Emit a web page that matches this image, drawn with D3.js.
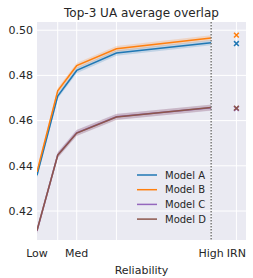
<!DOCTYPE html>
<html><head><meta charset="utf-8">
<script src="https://cdn.jsdelivr.net/npm/d3@7"></script>
<style>body{margin:0;background:#fff}svg{display:block}text{font-family:"DejaVu Sans",sans-serif;fill:#262626}</style>
</head><body><svg id="c" width="253" height="278"></svg>
<script>
const reliability = [0, 0.119, 0.228, 0.456, 1.0];
const irnX = 1.145;
const gridX = [0.119, 0.228, 0.456, 1.0, 1.145];
const xTickVals = [0, 0.228, 1.0, 1.145];
const xTickLabels = ["Low", "Med", "High", "IRN"];
const yTicks = [0.42, 0.44, 0.46, 0.48, 0.50];
const models = ["Model A", "Model B", "Model C", "Model D"];
const colors = ["#1f77b4", "#ff7f0e", "#9467bd", "#8c564b"];
const valsA = [0.4358, 0.4709, 0.4822, 0.4899, 0.4945];
const valsB = [0.4373, 0.4732, 0.4843, 0.4918, 0.4966];
const valsC = [0.4112, 0.4448, 0.4546, 0.4617, 0.4657];
const valsD = [0.4114, 0.4447, 0.4545, 0.4616, 0.4658];
const ciHalf = [0.0012, 0.0012, 0.0013, 0.0013];
const irnVals = [0.4941, 0.4978, 0.4653, 0.4655];
const series = [valsA, valsB, valsC, valsD];

const svg = d3.select("#c");
const L = 37, R = 246, T = 22, B = 240;
const x = d3.scaleLinear().domain([0, 1.2]).range([L, R]);
const y = d3.scaleLinear().domain([0.42, 0.50]).range([211, 30.2]);

svg.append("rect").attr("x", L).attr("y", T).attr("width", R - L).attr("height", B - T).attr("fill", "#eaeaf2");
const g = svg.append("g");
g.selectAll(".gy").data(yTicks).join("line")
  .attr("x1", L).attr("x2", R).attr("y1", d => y(d)).attr("y2", d => y(d))
  .attr("stroke", "#fff").attr("stroke-width", 1);
g.selectAll(".gx").data(gridX).join("line")
  .attr("x1", d => x(d)).attr("x2", d => x(d)).attr("y1", T).attr("y2", B)
  .attr("stroke", "#fff").attr("stroke-width", 1);

svg.append("clipPath").attr("id", "cp").append("rect")
  .attr("x", L).attr("y", T).attr("width", R - L).attr("height", B - T);
const pg = svg.append("g").attr("clip-path", "url(#cp)");

series.forEach((vals, i) => {
  const area = d3.area().x((d, j) => x(reliability[j])).y0(d => y(d - ciHalf[i])).y1(d => y(d + ciHalf[i]));
  pg.append("path").attr("d", area(vals)).attr("fill", colors[i]).attr("fill-opacity", 0.2);
});
series.forEach((vals, i) => {
  const line = d3.line().x((d, j) => x(reliability[j])).y(d => y(d));
  pg.append("path").attr("d", line(vals)).attr("fill", "none").attr("stroke", colors[i]).attr("stroke-width", 1.5);
});

pg.append("line").attr("x1", x(1.0)).attr("x2", x(1.0)).attr("y1", T).attr("y2", B)
  .attr("stroke", "#808080").attr("stroke-width", 1.6).attr("stroke-dasharray", "1.5,1.5");

irnVals.forEach((v, i) => {
  const cx = x(irnX), cy = y(v), s = 2.4;
  pg.append("path").attr("d", `M${cx - s},${cy - s}L${cx + s},${cy + s}M${cx - s},${cy + s}L${cx + s},${cy - s}`)
    .attr("stroke", colors[i]).attr("stroke-width", 1.5).attr("fill", "none");
});

svg.selectAll(".yl").data(yTicks).join("text")
  .attr("x", 33).attr("y", d => y(d)).attr("dy", "0.35em").attr("text-anchor", "end")
  .attr("font-size", 11).text(d => d.toFixed(2));
svg.selectAll(".xl").data(xTickVals).join("text")
  .attr("x", d => x(d)).attr("y", 256.5).attr("text-anchor", "middle")
  .attr("font-size", 11).text((d, i) => xTickLabels[i]);

svg.append("text").attr("x", (L + R) / 2).attr("y", 274).attr("text-anchor", "middle").attr("font-size", 11).text("Reliability");
svg.append("text").attr("x", (L + R) / 2).attr("y", 17).attr("text-anchor", "middle").attr("font-size", 12).text("Top-3 UA average overlap");

const lg = svg.append("g");
models.forEach((m, i) => {
  const yy = 175 + i * 14.7;
  lg.append("line").attr("x1", 137).attr("x2", 157).attr("y1", yy).attr("y2", yy).attr("stroke", colors[i]).attr("stroke-width", 1.5);
  lg.append("text").attr("x", 165).attr("y", yy).attr("dy", "0.35em").attr("font-size", 10).text(m);
});
</script></body></html>
